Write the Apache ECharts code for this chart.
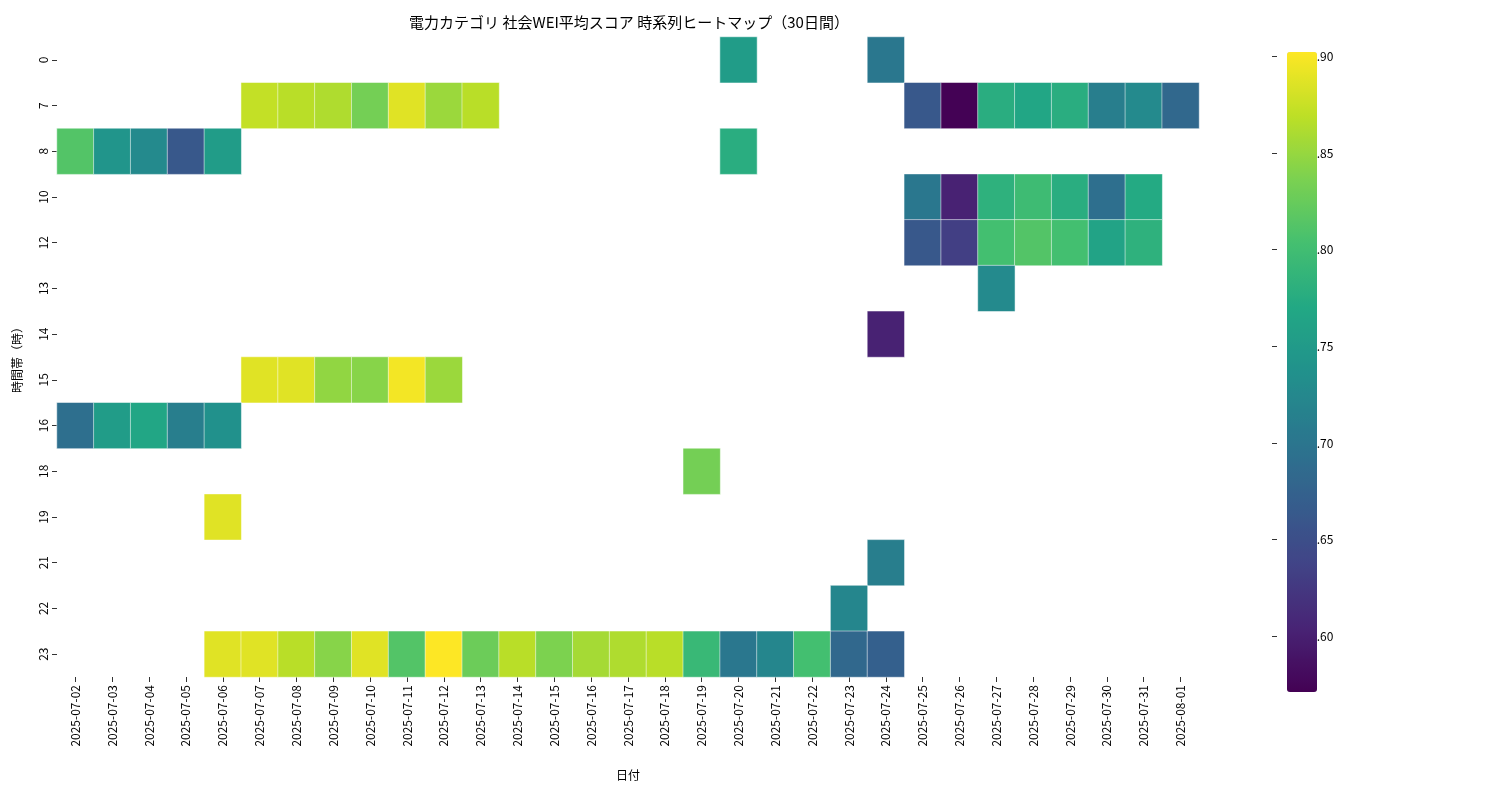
<!DOCTYPE html>
<html><head><meta charset="utf-8">
<script src="https://cdn.jsdelivr.net/npm/echarts@6/dist/echarts.min.js"></script>
<style>html,body{margin:0;padding:0;background:#fff}#c{width:1500px;height:800px}</style>
</head><body><div id="c"></div>
<script>
const dates=['2025-07-02','2025-07-03','2025-07-04','2025-07-05','2025-07-06','2025-07-07','2025-07-08','2025-07-09','2025-07-10','2025-07-11','2025-07-12','2025-07-13','2025-07-14','2025-07-15','2025-07-16','2025-07-17','2025-07-18','2025-07-19','2025-07-20','2025-07-21','2025-07-22','2025-07-23','2025-07-24','2025-07-25','2025-07-26','2025-07-27','2025-07-28','2025-07-29','2025-07-30','2025-07-31','2025-08-01'];
const hours=['0','7','8','10','12','13','14','15','16','18','19','21','22','23'];
// [dateLabel, hour, value]
const row0=[['2025-07-20',0.76],['2025-07-24',0.71]];
const row7=[['2025-07-07',0.88],['2025-07-08',0.875],['2025-07-09',0.87],['2025-07-10',0.84],['2025-07-11',0.895],['2025-07-12',0.86],['2025-07-13',0.875],['2025-07-25',0.67],['2025-07-26',0.58],['2025-07-27',0.785],['2025-07-28',0.775],['2025-07-29',0.785],['2025-07-30',0.72],['2025-07-31',0.735],['2025-08-01',0.69]];
const row8=[['2025-07-02',0.82],['2025-07-03',0.75],['2025-07-04',0.735],['2025-07-05',0.67],['2025-07-06',0.76],['2025-07-20',0.785]];
const row10=[['2025-07-25',0.71],['2025-07-26',0.61],['2025-07-27',0.79],['2025-07-28',0.805],['2025-07-29',0.785],['2025-07-30',0.70],['2025-07-31',0.78]];
const row12=[['2025-07-25',0.67],['2025-07-26',0.64],['2025-07-27',0.81],['2025-07-28',0.82],['2025-07-29',0.81],['2025-07-30',0.77],['2025-07-31',0.79]];
const row13=[['2025-07-27',0.735]];
const row14=[['2025-07-24',0.61]];
const row15=[['2025-07-07',0.895],['2025-07-08',0.895],['2025-07-09',0.855],['2025-07-10',0.85],['2025-07-11',0.905],['2025-07-12',0.86]];
const row16=[['2025-07-02',0.70],['2025-07-03',0.76],['2025-07-04',0.775],['2025-07-05',0.72],['2025-07-06',0.745]];
const row18=[['2025-07-19',0.84]];
const row19=[['2025-07-06',0.895]];
const row21=[['2025-07-24',0.72]];
const row22=[['2025-07-23',0.73]];
const row23=[['2025-07-06',0.895],['2025-07-07',0.895],['2025-07-08',0.875],['2025-07-09',0.85],['2025-07-10',0.895],['2025-07-11',0.82],['2025-07-12',0.91],['2025-07-13',0.835],['2025-07-14',0.875],['2025-07-15',0.845],['2025-07-16',0.865],['2025-07-17',0.87],['2025-07-18',0.875],['2025-07-19',0.80],['2025-07-20',0.71],['2025-07-21',0.73],['2025-07-22',0.81],['2025-07-23',0.69],['2025-07-24',0.68]];
const rows={'0':row0,'7':row7,'8':row8,'10':row10,'12':row12,'13':row13,'14':row14,'15':row15,'16':row16,'18':row18,'19':row19,'21':row21,'22':row22,'23':row23};
const cbTicks=[0.60,0.65,0.70,0.75,0.80,0.85,0.90];
const vmin=0.579, vmax=0.91;
const data=[];
for(const h of hours){for(const [d,v] of rows[h]){data.push([dates.indexOf(d),hours.indexOf(h),v]);}}
const viridis=['#440154','#482475','#414487','#355f8d','#2a788e','#21918c','#22a884','#44bf70','#7ad151','#bddf26','#fde725'];
const F='"Noto Sans CJK JP","DejaVu Sans",sans-serif';
const chart=echarts.init(document.getElementById('c'));
chart.setOption({
 animation:false,
 title:{text:'電力カテゴリ 社会WEI平均スコア 時系列ヒートマップ（30日間）',left:624,top:10,textAlign:'center',textStyle:{fontFamily:F,fontSize:15,fontWeight:'normal',color:'#000'}},
 grid:[{left:57,right:301,top:37,bottom:123},{left:1272,width:30,top:37,bottom:123}],
 xAxis:[{type:'category',data:dates,gridIndex:0,name:'日付',nameLocation:'middle',nameGap:92,nameTextStyle:{fontFamily:F,fontSize:12,color:'#000'},
   axisLine:{show:false},axisTick:{show:true,alignWithLabel:true,lineStyle:{color:'#333'}},splitLine:{show:false},
   axisLabel:{rotate:90,interval:0,fontFamily:F,fontSize:12,color:'#000'}},
  {type:'value',gridIndex:1,show:false,min:0,max:1}],
 yAxis:[{type:'category',data:hours,inverse:true,gridIndex:0,name:'時間帯（時）',nameLocation:'middle',nameGap:34,nameTextStyle:{fontFamily:F,fontSize:12,color:'#000'},
   axisLine:{show:false},axisTick:{show:true,alignWithLabel:true,lineStyle:{color:'#333'}},splitLine:{show:false},
   axisLabel:{rotate:90,interval:0,fontFamily:F,fontSize:12,color:'#000'}},
  {type:'value',gridIndex:1,position:'right',min:vmin,max:vmax,axisLine:{show:false},splitLine:{show:false},
   axisTick:{show:true,customValues:cbTicks,lineStyle:{color:'#333'}},
   axisLabel:{customValues:cbTicks,formatter:v=>v.toFixed(2),fontFamily:F,fontSize:12,color:'#000'}}],
 visualMap:{type:'continuous',min:vmin,max:vmax,calculable:false,seriesIndex:0,left:1272,top:37,itemWidth:30,itemHeight:640,text:null,showLabel:false,inRange:{color:viridis}},
 series:[{type:'heatmap',xAxisIndex:0,yAxisIndex:0,data:data,itemStyle:{borderColor:'#fff',borderWidth:0.5}},
  {type:'scatter',xAxisIndex:1,yAxisIndex:1,data:[]}]
});
</script></body></html>
